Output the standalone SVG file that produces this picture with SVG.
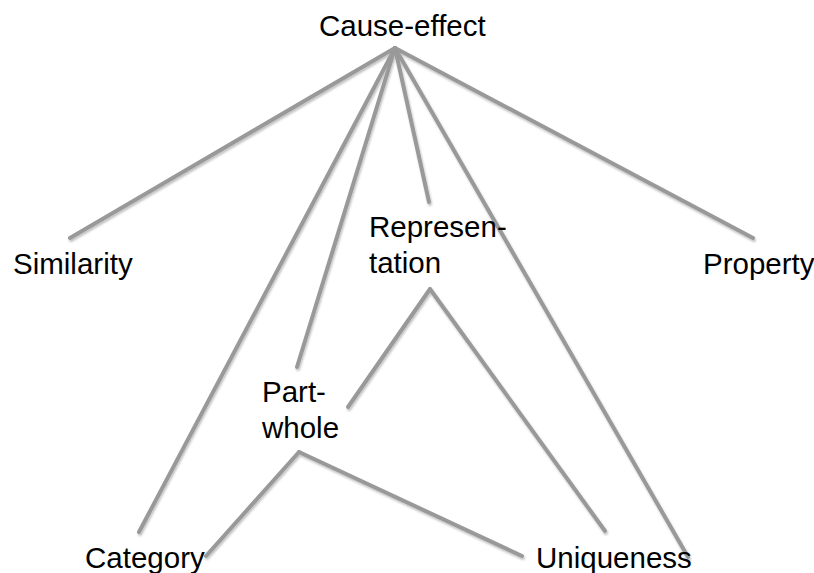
<svg xmlns="http://www.w3.org/2000/svg" width="814" height="573" viewBox="0 0 814 573">
  <style>
    .label { font-family: "Liberation Sans", Arial, sans-serif; font-size: 29.5px; fill: #000; }
    .link { stroke: #999; stroke-width: 4; stroke-linecap: round; fill: none; }
  </style>
  <defs>
    <filter id="shadow" x="-10%" y="-10%" width="120%" height="120%">
      <feDropShadow dx="1" dy="2" stdDeviation="1.2" flood-color="#000" flood-opacity="0.25"/>
    </filter>
  </defs>
  <rect width="814" height="573" fill="#fff"/>

  <g id="connectors" filter="url(#shadow)">
    <!-- from Cause-effect hub -->
    <line class="link" x1="395" y1="48" x2="70" y2="238"/>
    <line class="link" x1="395" y1="48" x2="139" y2="532"/>
    <line class="link" x1="395" y1="48" x2="297" y2="367"/>
    <line class="link" x1="395" y1="48" x2="429" y2="202"/>
    <line class="link" x1="395" y1="48" x2="688" y2="557"/>
    <line class="link" x1="395" y1="48" x2="753" y2="238"/>
    <!-- from Representation -->
    <line class="link" x1="430" y1="289" x2="348" y2="407"/>
    <line class="link" x1="430" y1="289" x2="605" y2="531"/>
    <!-- from Part-whole -->
    <line class="link" x1="299" y1="452" x2="206" y2="556"/>
    <line class="link" x1="299" y1="452" x2="522" y2="556"/>
  </g>

  <g id="cause-effect"><text class="label" x="319" y="36">Cause-effect</text></g>
  <g id="similarity"><text class="label" x="13" y="274">Similarity</text></g>
  <g id="property"><text class="label" x="703" y="274">Property</text></g>
  <g id="representation">
    <text class="label" x="369" y="237">Represen-</text>
    <text class="label" x="369" y="273">tation</text>
  </g>
  <g id="part-whole">
    <text class="label" x="262" y="402">Part-</text>
    <text class="label" x="262" y="438">whole</text>
  </g>
  <g id="category"><text class="label" x="85" y="568">Category</text></g>
  <g id="uniqueness"><text class="label" x="536" y="568">Uniqueness</text></g>
</svg>
